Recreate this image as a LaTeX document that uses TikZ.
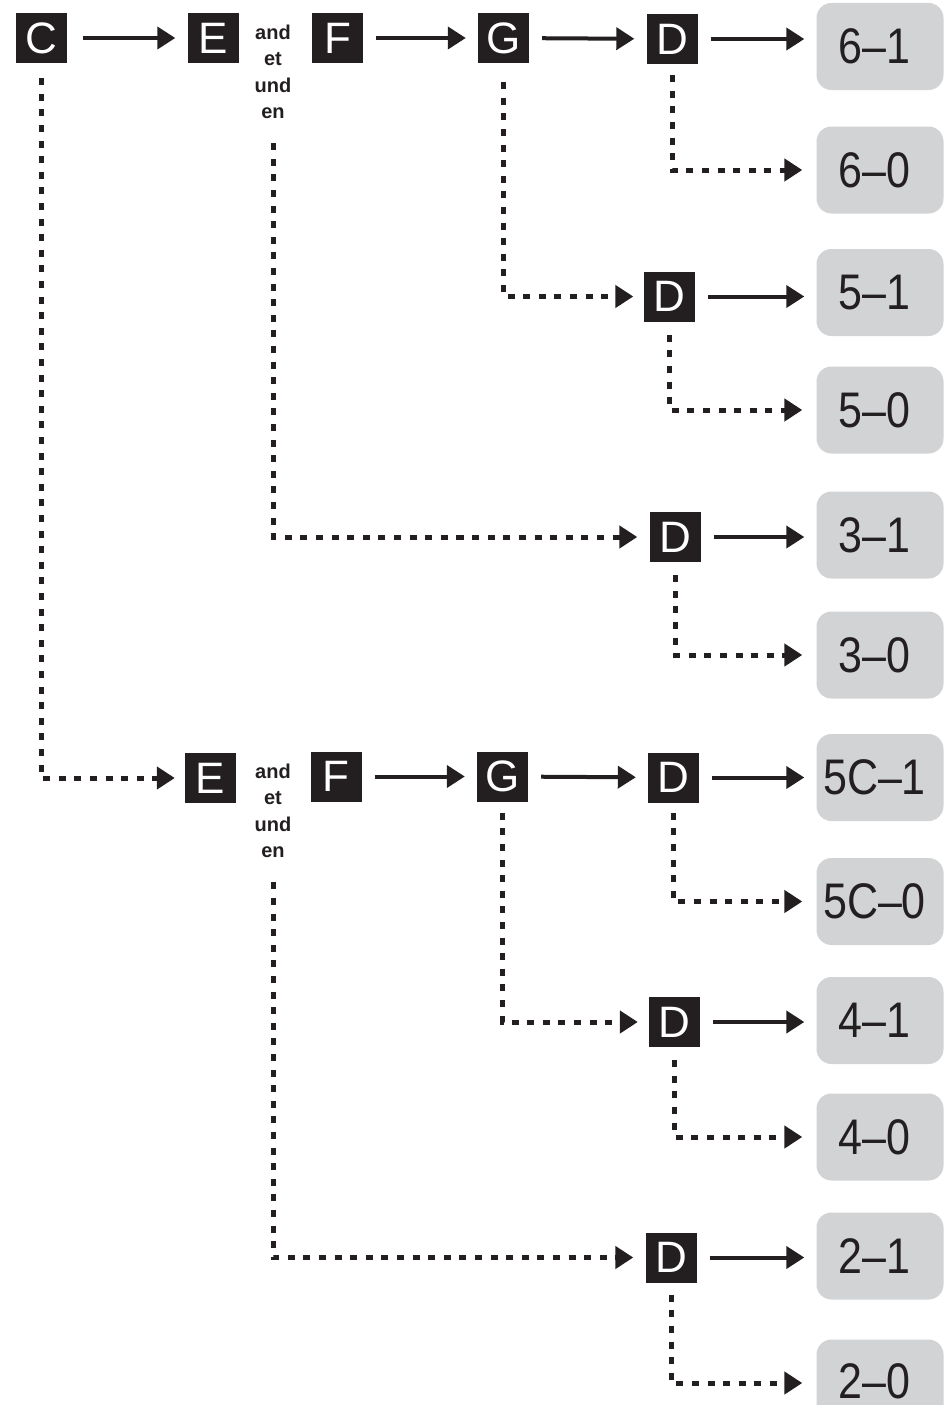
\documentclass[tikz,border=0pt]{standalone}
\usepackage{fontspec}
\setmainfont{Liberation Sans}
\newfontfamily\numfont[FakeStretch=0.86]{Liberation Sans}
\usetikzlibrary{arrows.meta}
\definecolor{ink}{HTML}{231F20}
\definecolor{pale}{HTML}{D1D3D4}
\newcommand\numshift{\hspace*{-11pt}}
\begin{document}
\begin{tikzpicture}[x=1pt,y=-1pt,
  letterbox/.style={fill=ink,text=white,minimum width=51pt,minimum height=50pt,inner sep=0pt,font=\fontsize{44}{44}\selectfont},
  resultbox/.style={fill=pale,rounded corners=15pt,minimum width=127pt,minimum height=87pt,inner sep=0pt,text=ink,font=\numfont\fontsize{50}{50}\selectfont},
  resulttext/.style={inner sep=0pt,text=ink,font=\numfont\fontsize{50}{50}\selectfont},
  conj/.style={align=center,text=ink,font=\bfseries\fontsize{20}{26.5}\selectfont,inner sep=0pt},
  solidarrow/.style={draw=ink,line width=4pt,-{Triangle[length=18pt,width=22pt]},shorten <=13pt,shorten >=12pt},
  dotarrow/.style={draw=ink,line width=5pt,dash pattern=on 7pt off 8.6pt,-{Triangle[length=18pt,width=22pt]},shorten >=14pt},
]
\useasboundingbox (0,0) rectangle (944,1405);
% row 1
\node[letterbox] (C1) at (41,38) {C};
\node[letterbox] (E1) at (213,38) {E};
\node[conj] (T1) at (273,72) {and\\et\\und\\en};
\node[letterbox] (F1) at (337.5,38) {F};
\node[letterbox] (G1) at (503.5,38) {G};
\node[letterbox] (D61) at (672,39) {D};
\node[resultbox] (R61) at (880,46.5) {\numshift 6–1};
\node[resultbox] (R60) at (880,170) {\numshift 6–0};
\node[letterbox] (D51) at (669,296.5) {D};
\node[resultbox] (R51) at (880,292.5) {\numshift 5–1};
\node[resultbox] (R50) at (880,410) {\numshift 5–0};
\node[letterbox] (D31) at (675,537) {D};
\node[resultbox] (R31) at (880,535) {\numshift 3–1};
\node[resultbox] (R30) at (880,655) {\numshift 3–0};
% row 2
\node[letterbox] (E2) at (210.5,778) {E};
\node[conj] (T2) at (273,811) {and\\et\\und\\en};
\node[letterbox] (F2) at (336,776.5) {F};
\node[letterbox] (G2) at (502.5,776.5) {G};
\node[letterbox] (D5C) at (673.5,777.5) {D};
\node[resultbox] (R5C1) at (880,777.5) {\numshift 5C–1};
\node[resultbox] (R5C0) at (880,901.5) {\numshift 5C–0};
\node[letterbox] (D41) at (674.5,1022) {D};
\node[resultbox] (R41) at (880,1020.5) {\numshift 4–1};
\node[resultbox] (R40) at (880,1137) {\numshift 4–0};
\node[letterbox] (D21) at (671,1257.5) {D};
\node[resultbox] (R21) at (880,1256) {\numshift 2–1};
\node[resultbox] (R20) at (880,1383) {};
\node[resulttext] (R20t) at (874.5,1381) {2–0};
% solid arrows
\draw[solidarrow,shorten <=16pt] (C1) -- (E1);
\draw[solidarrow] (F1) -- (G1);
\draw[solidarrow] (G1) -- (D61);
\draw[solidarrow] (D61) -- (D61 -| R61.west);
\draw[solidarrow] (D51) -- (D51 -| R51.west);
\draw[solidarrow] (D31) -- (D31 -| R31.west);
\draw[solidarrow] (F2) -- (G2);
\draw[solidarrow] (G2) -- (D5C);
\draw[solidarrow] (D5C) -- (D5C -| R5C1.west);
\draw[solidarrow] (D41) -- (D41 -| R41.west);
\draw[solidarrow] (D21) -- (D21 -| R21.west);
% dotted connectors
\draw[dotarrow,shorten <=15pt,shorten >=10pt] (C1.south) |- (E2.west);
\draw[dotarrow,shorten <=24pt,shorten >=12pt] (T1.south) |- (D31.west);
\draw[dotarrow,shorten <=19pt,shorten >=10pt] (G1.south) |- (D51.west);
\draw[dotarrow,shorten <=11pt] (D61.south) |- (R60.west);
\draw[dotarrow,shorten <=13pt] (D51.south) |- (R50.west);
\draw[dotarrow,shorten <=13pt] (D31.south) |- (R30.west);
\draw[dotarrow,shorten <=24pt,shorten >=12pt] (T2.south) |- (D21.west);
\draw[dotarrow,shorten <=11pt,shorten >=11pt] (G2.south) |- (D41.west);
\draw[dotarrow,shorten <=10pt] (D5C.south) |- (R5C0.west);
\draw[dotarrow,shorten <=13pt] (D41.south) |- (R40.west);
\draw[dotarrow,shorten <=12pt] (D21.south) |- (R20.west);
\end{tikzpicture}
\end{document}
